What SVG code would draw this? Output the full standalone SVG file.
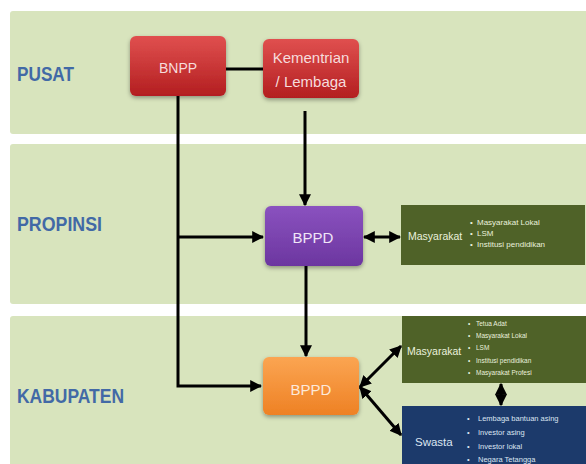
<svg xmlns="http://www.w3.org/2000/svg" width="586" height="464" viewBox="0 0 586 464">
<style>
.band{fill:#d8e4bd;}
.lvl{font-family:"Liberation Sans",Arial,sans-serif;font-weight:bold;font-size:21px;fill:#4269a6;}
.nt{font-family:"Liberation Sans",Arial,sans-serif;text-anchor:middle;}
.bt{font-family:"Liberation Sans",Arial,sans-serif;}
.ln{fill:none;stroke:#000;stroke-width:3;}
</style>
<defs>
<linearGradient id="gRed" x1="0" y1="0" x2="0" y2="1"><stop offset="0" stop-color="#e0504f"/><stop offset="1" stop-color="#b31e20"/></linearGradient>
<linearGradient id="gPur" x1="0" y1="0" x2="0" y2="1"><stop offset="0" stop-color="#8a52bf"/><stop offset="1" stop-color="#6c36a0"/></linearGradient>
<linearGradient id="gOr" x1="0" y1="0" x2="0" y2="1"><stop offset="0" stop-color="#fba552"/><stop offset="1" stop-color="#ee8124"/></linearGradient>
<linearGradient id="gLbl" x1="0" y1="0" x2="0" y2="1"><stop offset="0" stop-color="#5b84c2"/><stop offset="1" stop-color="#34598f"/></linearGradient>
<filter id="sh" x="-20%" y="-20%" width="140%" height="150%"><feDropShadow dx="0" dy="2" stdDeviation="2" flood-color="#000" flood-opacity="0.35"/></filter>
<marker id="ah" viewBox="0 0 10 10" refX="9" refY="5" markerWidth="4" markerHeight="4" orient="auto-start-reverse" markerUnits="strokeWidth"><path d="M0,0 L10,5 L0,10 z" fill="#000"/></marker>
</defs>
<rect width="586" height="464" fill="#ffffff"/>
<g id="bands">
<rect class="band" x="10" y="11" width="580" height="123" rx="3"/>
<rect class="band" x="10" y="144" width="580" height="160" rx="3"/>
<rect class="band" x="10" y="316" width="580" height="152" rx="3"/>
</g>
<g id="labels">
<text class="lvl" x="17" y="81" textLength="57" lengthAdjust="spacingAndGlyphs" fill="url(#gLbl)">PUSAT</text>
<text class="lvl" x="17" y="231" textLength="85" lengthAdjust="spacingAndGlyphs" fill="url(#gLbl)">PROPINSI</text>
<text class="lvl" x="17" y="403" textLength="107" lengthAdjust="spacingAndGlyphs" fill="url(#gLbl)">KABUPATEN</text>
</g>
<g id="connectors">
<line class="ln" x1="226" y1="69" x2="263" y2="69"/>
<polyline class="ln" points="178,95 178,386 261,386" marker-end="url(#ah)"/>
<line class="ln" x1="178" y1="237" x2="263" y2="237" marker-end="url(#ah)"/>
<line class="ln" x1="305" y1="111" x2="305" y2="205" marker-end="url(#ah)"/>
<line class="ln" x1="306" y1="266" x2="306" y2="356" marker-end="url(#ah)"/>
<line class="ln" x1="364" y1="237" x2="400" y2="237" marker-start="url(#ah)" marker-end="url(#ah)"/>
<line class="ln" x1="360" y1="387" x2="401" y2="346" marker-start="url(#ah)" marker-end="url(#ah)"/>
<line class="ln" x1="360" y1="387" x2="401" y2="435" marker-start="url(#ah)" marker-end="url(#ah)"/>
<line class="ln" x1="501" y1="384" x2="501" y2="405" stroke-width="4" marker-start="url(#ah)" marker-end="url(#ah)"/>
</g>
<g id="bnpp">
<rect x="130" y="36" width="96" height="60" rx="6" fill="url(#gRed)" filter="url(#sh)"/>
<text class="nt" x="178" y="73" font-size="14" fill="#f6dcdc">BNPP</text>
</g>
<g id="kementrian">
<rect x="263" y="39" width="96" height="59" rx="6" fill="url(#gRed)" filter="url(#sh)"/>
<text class="nt" x="311" y="63" font-size="15" fill="#f6dcdc">Kementrian</text>
<text class="nt" x="311" y="87" font-size="15" fill="#f6dcdc">/ Lembaga</text>
</g>
<g id="bppd-propinsi">
<rect x="265" y="206" width="98" height="60" rx="6" fill="url(#gPur)" filter="url(#sh)"/>
<text class="nt" x="313" y="243" font-size="15" fill="#f0e6f8">BPPD</text>
</g>
<g id="bppd-kabupaten">
<rect x="263" y="357" width="96" height="58" rx="6" fill="url(#gOr)" filter="url(#sh)"/>
<text class="nt" x="311" y="395" font-size="15" fill="#fde9d9">BPPD</text>
</g>
<g id="masyarakat-propinsi">
<rect x="401" y="205" width="184" height="60" fill="#4f6228"/>
<text class="bt" x="408" y="240" font-size="10.5" fill="#eaf1dd">Masyarakat</text>
<g class="bt" font-size="8" fill="#eaf1dd">
<text x="470" y="225">•</text><text x="477" y="225">Masyarakat Lokal</text>
<text x="470" y="236">•</text><text x="477" y="236">LSM</text>
<text x="470" y="247">•</text><text x="477" y="247">Institusi pendidikan</text>
</g>
</g>
<g id="masyarakat-kabupaten">
<rect x="402" y="316" width="184" height="67" fill="#4f6228"/>
<text class="bt" x="407" y="355" font-size="10.5" fill="#eaf1dd">Masyarakat</text>
<g class="bt" font-size="6.5" fill="#eaf1dd">
<text x="468" y="326">•</text><text x="476" y="326">Tetua Adat</text>
<text x="468" y="338">•</text><text x="476" y="338">Masyarakat Lokal</text>
<text x="468" y="350">•</text><text x="476" y="350">LSM</text>
<text x="468" y="363">•</text><text x="476" y="363">Institusi pendidikan</text>
<text x="468" y="375">•</text><text x="476" y="375">Masyarakat Profesi</text>
</g>
</g>
<g id="swasta">
<rect x="402" y="406" width="184" height="62" fill="#1c3a6b"/>
<text class="bt" x="415" y="446" font-size="11.5" fill="#dbe5f1">Swasta</text>
<g class="bt" font-size="7.5" fill="#dbe5f1">
<text x="467" y="421">•</text><text x="478" y="421">Lembaga bantuan asing</text>
<text x="467" y="435">•</text><text x="478" y="435">Investor asing</text>
<text x="467" y="449">•</text><text x="478" y="449">Investor lokal</text>
<text x="467" y="462">•</text><text x="478" y="462">Negara Tetangga</text>
</g>
</g>
</svg>
